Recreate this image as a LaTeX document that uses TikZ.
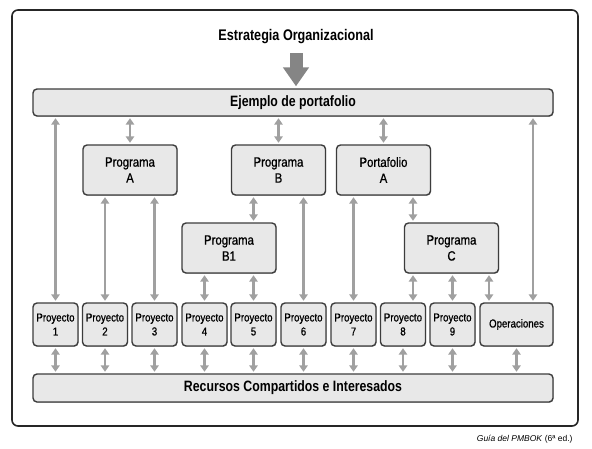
\documentclass[tikz,border=0pt]{standalone}
\usepackage{fontspec}
\newfontfamily\condfont{Liberation Sans}[FakeStretch=0.82]
\newfontfamily\boxfont{Liberation Sans}[FakeStretch=0.84, FakeBold=0.8]
\newfontfamily\capfont{Liberation Sans}
\usepackage{tikz}
\usetikzlibrary{arrows.meta,shadows}
\definecolor{linkgray}{HTML}{A0A0A0}
\definecolor{arrowgray}{HTML}{858585}
\definecolor{boxfill}{HTML}{E8E8E8}
\definecolor{boxline}{HTML}{3C3C3C}
\tikzset{
    box/.style = {draw=boxline, fill=boxfill, line width=1.4pt, rounded corners=4pt,
        align=center, inner sep=0pt,
        drop shadow={shadow xshift=0.5pt, shadow yshift=-0.8pt, fill=black!55}},
    bar/.style = {box, minimum width=520pt, minimum height=27pt,
        font=\condfont\bfseries\fontsize{15}{18}\selectfont},
    prog/.style = {box, minimum width=94pt, minimum height=50pt,
        font=\boxfont\fontsize{13.5}{16}\selectfont},
    proj/.style = {box, minimum width=45pt, minimum height=43pt,
        font=\boxfont\fontsize{11.5}{14}\selectfont},
    link/.style = {linkgray, line width=2.8pt, shorten <=1.5pt, shorten >=1.5pt,
        {Triangle[width=8.5pt,length=6.5pt]}-{Triangle[width=8.5pt,length=6.5pt]}},
    bigarrow/.style = {arrowgray, line width=13pt, shorten >=2pt,
        -{Triangle[width=25pt,length=19pt]}},
    frame/.style = {draw=black!85, line width=1.6pt, rounded corners=6pt}
}
\begin{document}
\begin{tikzpicture}[x=1pt, y=-1pt]
    \useasboundingbox (0,0) rectangle (592,448);
    \draw[frame] (12,10) rectangle (578,426);

    \node[font=\condfont\bfseries\fontsize{15.4}{18}\selectfont] (strategy) at (296,37) {Estrategia Organizacional};
    \node[bar] (portfolio) at (293,102.5) {Ejemplo de portafolio};
    \node[bar, minimum height=28pt] (resources) at (293,388) {Recursos Compartidos e Interesados};

    \node[prog] (progA) at (130,170) {Programa\\A};
    \node[prog] (progB) at (278.5,170) {Programa\\B};
    \node[prog] (portA) at (383.5,170) {Portafolio\\A};
    \node[prog] (progB1) at (229,248) {Programa\\B1};
    \node[prog] (progC) at (451.5,248) {Programa\\C};

    \node[proj] (p1) at (55.5,324.5) {Proyecto\\1};
    \node[proj] (p2) at (105,324.5) {Proyecto\\2};
    \node[proj] (p3) at (154.5,324.5) {Proyecto\\3};
    \node[proj] (p4) at (204.5,324.5) {Proyecto\\4};
    \node[proj] (p5) at (253.5,324.5) {Proyecto\\5};
    \node[proj] (p6) at (303.5,324.5) {Proyecto\\6};
    \node[proj] (p7) at (353.5,324.5) {Proyecto\\7};
    \node[proj] (p8) at (403,324.5) {Proyecto\\8};
    \node[proj] (p9) at (452.5,324.5) {Proyecto\\9};
    \node[proj, minimum width=73pt] (ops) at (516.5,324.5) {Operaciones};

    \node[anchor=east, font=\capfont\fontsize{8.5}{10}\selectfont] (source) at (576,439) {\textit{Guía del PMBOK} (6ª ed.)};

    \coordinate (arrowtop) at (296,53);
    \coordinate (opsup) at ([xshift=16.5pt]ops.north);
    \coordinate (opsleft) at ([xshift=-27.5pt]ops.north);
    \coordinate (p8right) at ([xshift=10pt]p8.north);

    \draw[bigarrow] (arrowtop) -- (arrowtop |- portfolio.north);

    % portfolio to first level
    \path[link] (portfolio.south -| p1.north) edge (p1.north);
    \path[link] (portfolio.south -| progA.north) edge (progA.north);
    \path[link] (portfolio.south -| progB.north) edge (progB.north);
    \path[link] (portfolio.south -| portA.north) edge (portA.north);
    \path[link] (portfolio.south -| opsup) edge (opsup);

    % programs and portfolio A
    \path[link] (progA.south -| p2.north) edge (p2.north);
    \path[link] (progA.south -| p3.north) edge (p3.north);
    \path[link] (progB.south -| p5.north) edge (progB1.north -| p5.north);
    \path[link] (progB.south -| p6.north) edge (p6.north);
    \path[link] (progB1.south -| p4.north) edge (p4.north);
    \path[link] (progB1.south -| p5.north) edge (p5.north);
    \path[link] (portA.south -| p7.north) edge (p7.north);
    \path[link] (portA.south -| p8right) edge (progC.north -| p8right);
    \path[link] (progC.south -| p8right) edge (p8right);
    \path[link] (progC.south -| p9.north) edge (p9.north);
    \path[link] (progC.south -| opsleft) edge (opsleft);

    % projects to shared resources
    \path[link] (p1.south) edge (resources.north -| p1.south);
    \path[link] (p2.south) edge (resources.north -| p2.south);
    \path[link] (p3.south) edge (resources.north -| p3.south);
    \path[link] (p4.south) edge (resources.north -| p4.south);
    \path[link] (p5.south) edge (resources.north -| p5.south);
    \path[link] (p6.south) edge (resources.north -| p6.south);
    \path[link] (p7.south) edge (resources.north -| p7.south);
    \path[link] (p8.south) edge (resources.north -| p8.south);
    \path[link] (p9.south) edge (resources.north -| p9.south);
    \path[link] (ops.south) edge (resources.north -| ops.south);
\end{tikzpicture}
\end{document}
